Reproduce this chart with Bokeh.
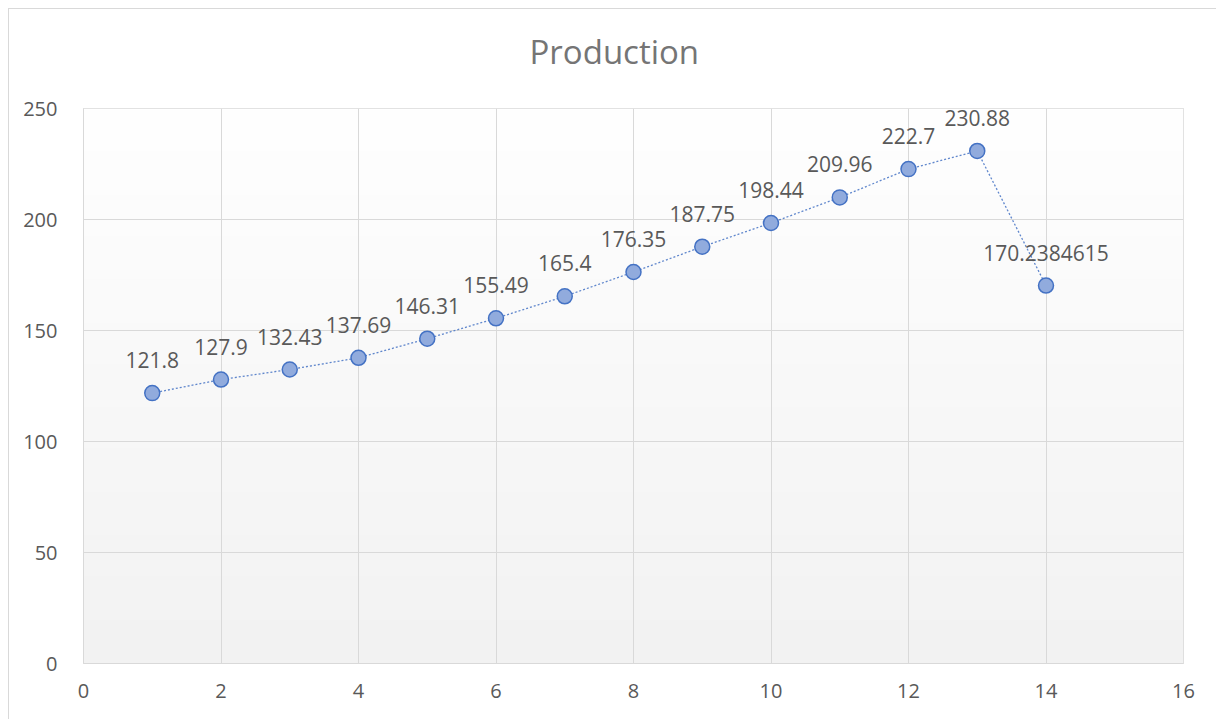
import numpy as np
from bokeh.plotting import figure
from bokeh.models import ColumnDataSource, Range1d, FixedTicker, Title, LabelSet
from bokeh.core.properties import value
from bokeh.embed import file_html
from bokeh.resources import INLINE

# ---- data ----
x_vals = [1, 2, 3, 4, 5, 6, 7, 8, 9, 10, 11, 12, 13, 14]
production = [121.8, 127.9, 132.43, 137.69, 146.31, 155.49, 165.4, 176.35,
              187.75, 198.44, 209.96, 222.7, 230.88, 170.2384615]
labels = [repr(v) for v in production]
x_ticks = [0, 2, 4, 6, 8, 10, 12, 14, 16]
y_ticks = [0, 50, 100, 150, 200, 250]
title_text = "Production"

FONT = "Open Sans"
GRID = "#d9d9d9"

p = figure(width=1208, height=711, output_backend="svg", toolbar_location=None,
           x_range=Range1d(0, 16), y_range=Range1d(0, 250),
           min_border_left=74, min_border_right=34, min_border_top=99,
           min_border_bottom=57, margin=(8, 0, 0, 8))
p.styles = {"border-left": "1px solid #d9d9d9", "border-top": "1px solid #d9d9d9"}
p.title = None

# gradient plot-area background
n = 256
shade = np.linspace(242, 255, n)  # bottom -> top
img = np.zeros((n, 1), dtype=np.uint32)
view = img.view(dtype=np.uint8).reshape((n, 1, 4))
view[:, 0, 0] = shade.astype(np.uint8)
view[:, 0, 1] = shade.astype(np.uint8)
view[:, 0, 2] = shade.astype(np.uint8)
view[:, 0, 3] = 255
p.image_rgba(image=[img], x=x_ticks[0], y=y_ticks[0],
             dw=x_ticks[-1] - x_ticks[0], dh=y_ticks[-1] - y_ticks[0], level="image")

p.background_fill_color = "white"
p.border_fill_color = "white"
p.outline_line_color = GRID
p.outline_line_width = 1

p.xaxis.ticker = FixedTicker(ticks=x_ticks)
p.yaxis.ticker = FixedTicker(ticks=y_ticks)
for ax in (p.xaxis, p.yaxis):
    ax.axis_line_color = GRID
    ax.major_tick_line_color = None
    ax.minor_tick_line_color = None
    ax.major_label_text_font = FONT
    ax.major_label_text_font_size = "20px"
    ax.major_label_text_color = "#595959"
p.xaxis.major_label_standoff = 14
p.yaxis.major_label_standoff = 20

p.xgrid.grid_line_color = GRID
p.ygrid.grid_line_color = GRID
p.xgrid.level = "underlay"
p.ygrid.level = "underlay"

# spacer (nearest the plot area) then the visible chart title above it
spacer = Title(text=" ", text_font_size="1px", standoff=32)
main_title = Title(text=title_text, align="left", offset=446, standoff=0,
                   text_font=FONT, text_font_size="33px", text_font_style="normal",
                   text_color="#757575")
p.add_layout(spacer, "above")
p.add_layout(main_title, "above")

src = ColumnDataSource(dict(x=x_vals, y=production, label=labels))
p.line("x", "y", source=src, line_color="#4472c4", line_width=1.3, line_dash="2 2",
       line_alpha=0.85)
p.scatter("x", "y", source=src, size=15, fill_color="#91abdd",
          line_color="#4472c4", line_width=1.5)

ls = LabelSet(x="x", y="y", text="label", source=src, text_align="center",
              text_baseline="bottom", y_offset=25, text_font=value(FONT),
              text_font_size=value("21px"), text_color="#595959")
p.add_layout(ls)

open("out.html", "w").write(file_html(p, INLINE))
